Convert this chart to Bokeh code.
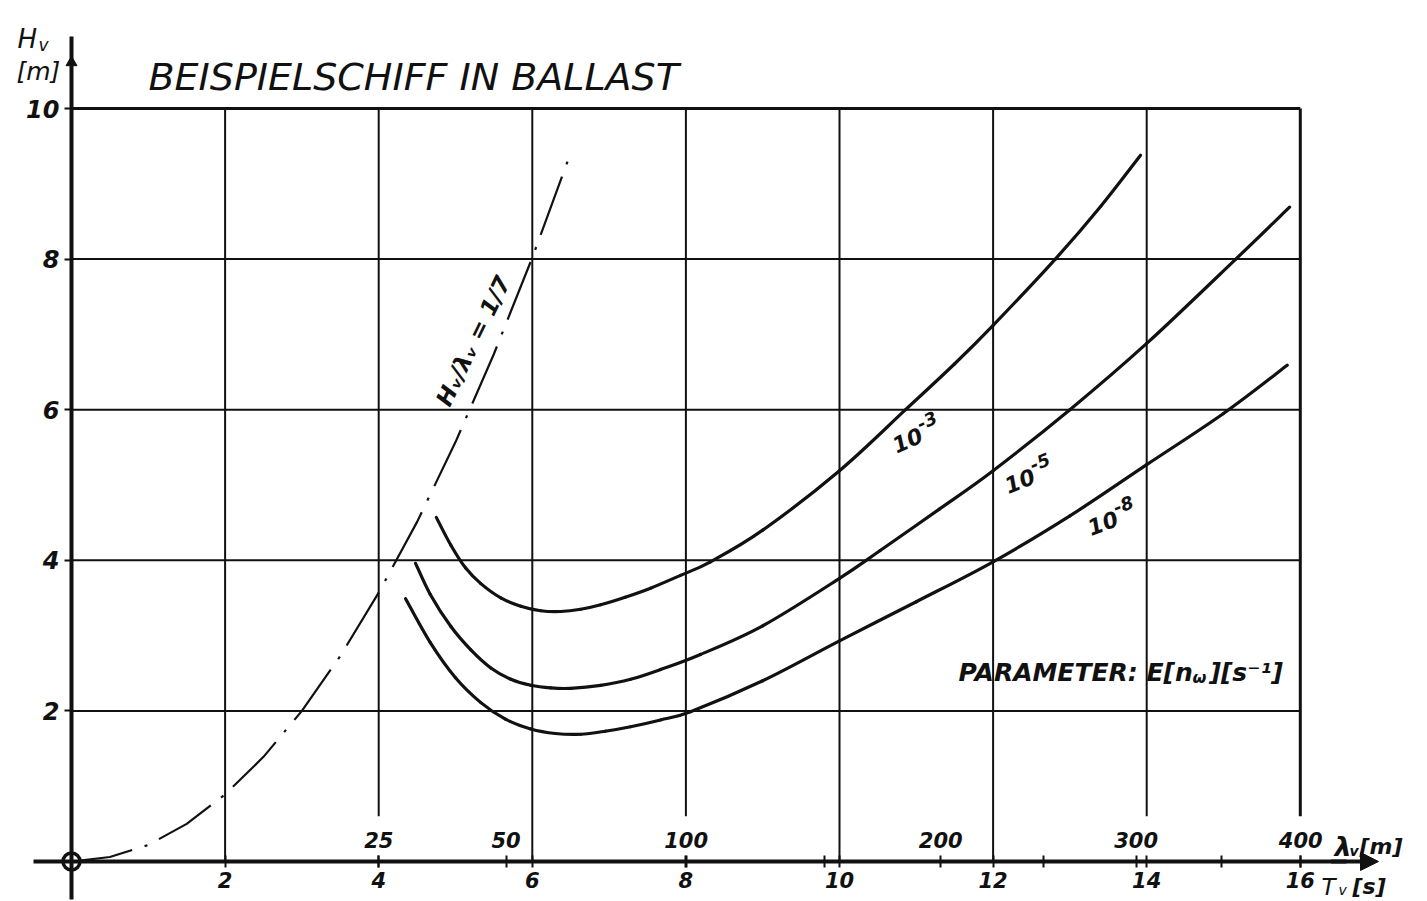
import math
from bokeh.plotting import figure
from bokeh.models import (Range1d, LinearAxis, FixedTicker, CustomJSTickFormatter,
                          Label, Arrow, NormalHead)
from bokeh.embed import file_html
from bokeh.resources import INLINE

# ---------------- data ----------------
t_ticks = [2, 4, 6, 8, 10, 12, 14, 16]          # T_v [s]
h_ticks = [2, 4, 6, 8, 10]                      # H_v [m]
lam_major = [25, 50, 100, 200, 300, 400]        # lambda_v [m] labels
lam_minor = [150, 250, 350]
LAM_PER_T2 = 1.5613                              # lambda = g T^2 / (2 pi)

# E[n_w] = 1e-3
c3_t = [4.75, 4.94, 5.13, 5.33, 5.59, 5.85, 6.11, 6.37, 6.63, 6.89, 7.21, 7.54, 7.93, 8.32, 9.0, 10.0, 10.86, 11.5, 12.0, 12.81, 13.4, 13.92]
c3_h = [4.57, 4.20, 3.90, 3.69, 3.50, 3.39, 3.33, 3.32, 3.35, 3.41, 3.51, 3.63, 3.80, 3.98, 4.40, 5.19, 6.00, 6.61, 7.12, 8.00, 8.70, 9.38]
# E[n_w] = 1e-5
c5_t = [4.48, 4.67, 4.94, 5.20, 5.46, 5.72, 5.98, 6.24, 6.50, 6.89, 7.28, 7.67, 8.19, 9.0, 10.0, 10.53, 11.3, 12.0, 13.0, 14.0, 15.16, 15.86]
c5_h = [3.96, 3.55, 3.12, 2.81, 2.57, 2.42, 2.34, 2.305, 2.30, 2.34, 2.42, 2.55, 2.75, 3.13, 3.76, 4.13, 4.68, 5.19, 6.00, 6.88, 8.00, 8.69]
# E[n_w] = 1e-8
c8_t = [4.35, 4.67, 5.00, 5.33, 5.65, 5.98, 6.30, 6.63, 6.95, 7.28, 7.67, 8.06, 9.0, 10.0, 11.0, 12.0, 13.0, 14.0, 15.0, 15.83]
c8_h = [3.49, 2.91, 2.44, 2.11, 1.89, 1.76, 1.70, 1.69, 1.73, 1.79, 1.88, 1.99, 2.40, 2.93, 3.45, 3.98, 4.59, 5.27, 5.95, 6.59]
# breaking limit H/lambda = 1/7
dd_t = [0, 0.5, 1.0, 1.5, 2.0, 2.5, 3.0, 3.5, 4.0, 4.5, 5.0, 5.5, 6.0, 6.46]
dd_h = [0, 0.06, 0.22, 0.50, 0.89, 1.39, 2.00, 2.73, 3.57, 4.51, 5.57, 6.74, 8.02, 9.30]

curve_names = ["-3", "-5", "-8"]

# ---------------- layout ----------------
W, HGT = 1427, 901
X0PX, XS = 71.0, 76.8
Y0PX, YS = 861.0, 75.3

def X(px):
    return (px - X0PX) / XS

def Y(py):
    return (Y0PX - py) / YS

FONT = "DejaVu Sans"
INK = "#111111"

p = figure(width=W, height=HGT, x_range=Range1d(X(0), X(W)), y_range=Range1d(Y(HGT), Y(0)),
           output_backend="svg", toolbar_location=None, min_border=0,
           x_axis_type=None, y_axis_type=None, outline_line_color=None,
           background_fill_color="white", border_fill_color="white")

t_max = t_ticks[-1]
h_max = h_ticks[-1]
lam_major_pos = [math.sqrt(l / LAM_PER_T2) for l in lam_major]
lam_minor_pos = [math.sqrt(l / LAM_PER_T2) for l in lam_minor]

# grid: horizontal
p.segment(x0=[0] * len(h_ticks), y0=h_ticks, x1=[t_max] * len(h_ticks), y1=h_ticks,
          line_color=INK, line_width=[3 if h == h_max else 2 for h in h_ticks])
# grid: vertical (stop short where a lambda label sits below)
v_base = [0.6 if min(abs(t - lp) for lp in lam_major_pos) < 0.3 else 0 for t in t_ticks]
p.segment(x0=t_ticks, y0=v_base, x1=t_ticks, y1=[h_max] * len(t_ticks),
          line_color=INK, line_width=[3 if t == t_max else 2 for t in t_ticks])

# dash-dot breaking limit
p.line(dd_t, dd_h, line_color=INK, line_width=2.2, line_dash="62 13 3 13")

# smooth drawing of the read points (Catmull-Rom rendered as Bezier pieces)
def smooth(tt, hh):
    n = len(tt)
    out = {k: [] for k in ("x0", "y0", "x1", "y1", "cx0", "cy0", "cx1", "cy1")}
    for i in range(n - 1):
        a = max(i - 1, 0)
        d = min(i + 2, n - 1)
        out["x0"].append(tt[i]); out["y0"].append(hh[i])
        out["x1"].append(tt[i + 1]); out["y1"].append(hh[i + 1])
        out["cx0"].append(tt[i] + (tt[i + 1] - tt[a]) / 6.0)
        out["cy0"].append(hh[i] + (hh[i + 1] - hh[a]) / 6.0)
        out["cx1"].append(tt[i + 1] - (tt[d] - tt[i]) / 6.0)
        out["cy1"].append(hh[i + 1] - (hh[d] - hh[i]) / 6.0)
    return out

for tt, hh in ((c3_t, c3_h), (c5_t, c5_h), (c8_t, c8_h)):
    p.bezier(line_color=INK, line_width=3.2, line_cap="round", **smooth(tt, hh))

# axes
lbl_style = dict(major_label_text_font=FONT, major_label_text_font_style="bold italic",
                 major_label_text_color=INK)
xaxis = LinearAxis(fixed_location=0, ticker=FixedTicker(ticks=t_ticks),
                   bounds=(X(33), t_max + 0.6), axis_line_width=4, axis_line_color=INK,
                   major_tick_in=6, major_tick_out=6, major_tick_line_width=2,
                   major_tick_line_color=INK, minor_tick_line_color=None,
                   major_label_standoff=4, major_label_text_font_size="21px", **lbl_style)
p.add_layout(xaxis, "below")

lam_fmt = CustomJSTickFormatter(args=dict(pos=lam_major_pos, labels=[str(l) for l in lam_major]),
                                code="""
const i = pos.findIndex(v => Math.abs(v - tick) < 1e-6);
return i >= 0 ? labels[i] : "";
""")
laxis = LinearAxis(fixed_location=0, ticker=FixedTicker(ticks=lam_major_pos, minor_ticks=lam_minor_pos),
                   formatter=lam_fmt, axis_line_color=None,
                   major_tick_in=6, major_tick_out=6, major_tick_line_width=2,
                   major_tick_line_color=INK, minor_tick_in=6, minor_tick_out=6,
                   minor_tick_line_width=2, minor_tick_line_color=INK,
                   major_label_standoff=8, major_label_text_font_size="21px", **lbl_style)
p.add_layout(laxis, "above")

yaxis = LinearAxis(fixed_location=0, ticker=FixedTicker(ticks=h_ticks),
                   bounds=(Y(899), Y(36)), axis_line_width=4, axis_line_color=INK,
                   major_tick_in=0, major_tick_out=7, major_tick_line_width=2,
                   major_tick_line_color=INK, minor_tick_line_color=None,
                   major_label_standoff=5, major_label_text_font_size="24px", **lbl_style)
p.add_layout(yaxis, "left")

# arrow heads
p.add_layout(Arrow(x_start=t_max + 0.4, y_start=0, x_end=X(1378), y_end=0, line_width=4,
                   line_color=INK, end=NormalHead(size=18, fill_color=INK, line_color=INK)))
p.scatter(x=[0], y=[Y(62)], marker="triangle", size=11, fill_color=INK, line_color=INK)
# origin
p.scatter(x=[0], y=[0], size=17, fill_color="white", line_color=INK, line_width=3.5)

def txt(px, py, s, size, style="italic", angle=0.0, align="left"):
    p.add_layout(Label(x=X(px), y=Y(py), text=s, text_font=FONT, text_font_size=f"{size}px",
                       text_font_style=style, text_color=INK, angle=angle,
                       text_align=align, text_baseline="alphabetic"))

# titles and axis names
txt(148, 76, "BEISPIELSCHIFF IN BALLAST", 38)
txt(17, 38, "H", 26)
txt(38, 44, "v", 17)
txt(16, 71, "[m]", 25)
txt(1334, 846, "λ", 27, "bold italic")
txt(1349, 850, "v", 14, "bold italic")
txt(1359, 846, "[m]", 22, "bold italic")
txt(1321, 886, "T", 23)
txt(1338, 889, "v", 14)
txt(1352, 886, "[s]", 22, "bold italic")

# curve labels: "10" with a raised exponent, rotated along the curve
def power_label(bx, by, exp, ang):
    txt(bx, by, "10", 22, "bold italic", angle=ang)
    ca, sa = math.cos(ang), math.sin(ang)
    ex = bx + 31 * ca - 10 * sa
    ey = by - 31 * sa - 10 * ca
    txt(ex, ey, exp, 18, "bold italic", angle=ang)

power_label(893, 446, curve_names[0], 0.42)
power_label(1005, 486, curve_names[1], 0.38)
power_label(1088, 528, curve_names[2], 0.36)

txt(442, 404, "Hᵥ/λᵥ = 1/7", 23, "bold italic", angle=1.12)

# parameter note
txt(958, 672, "PARAMETER: E[n", 25, "bold italic")
txt(1192, 677, "ω", 16, "bold italic")
txt(1209, 672, "][s⁻¹]", 25, "bold italic")

open("out.html", "w").write(file_html(p, INLINE))
